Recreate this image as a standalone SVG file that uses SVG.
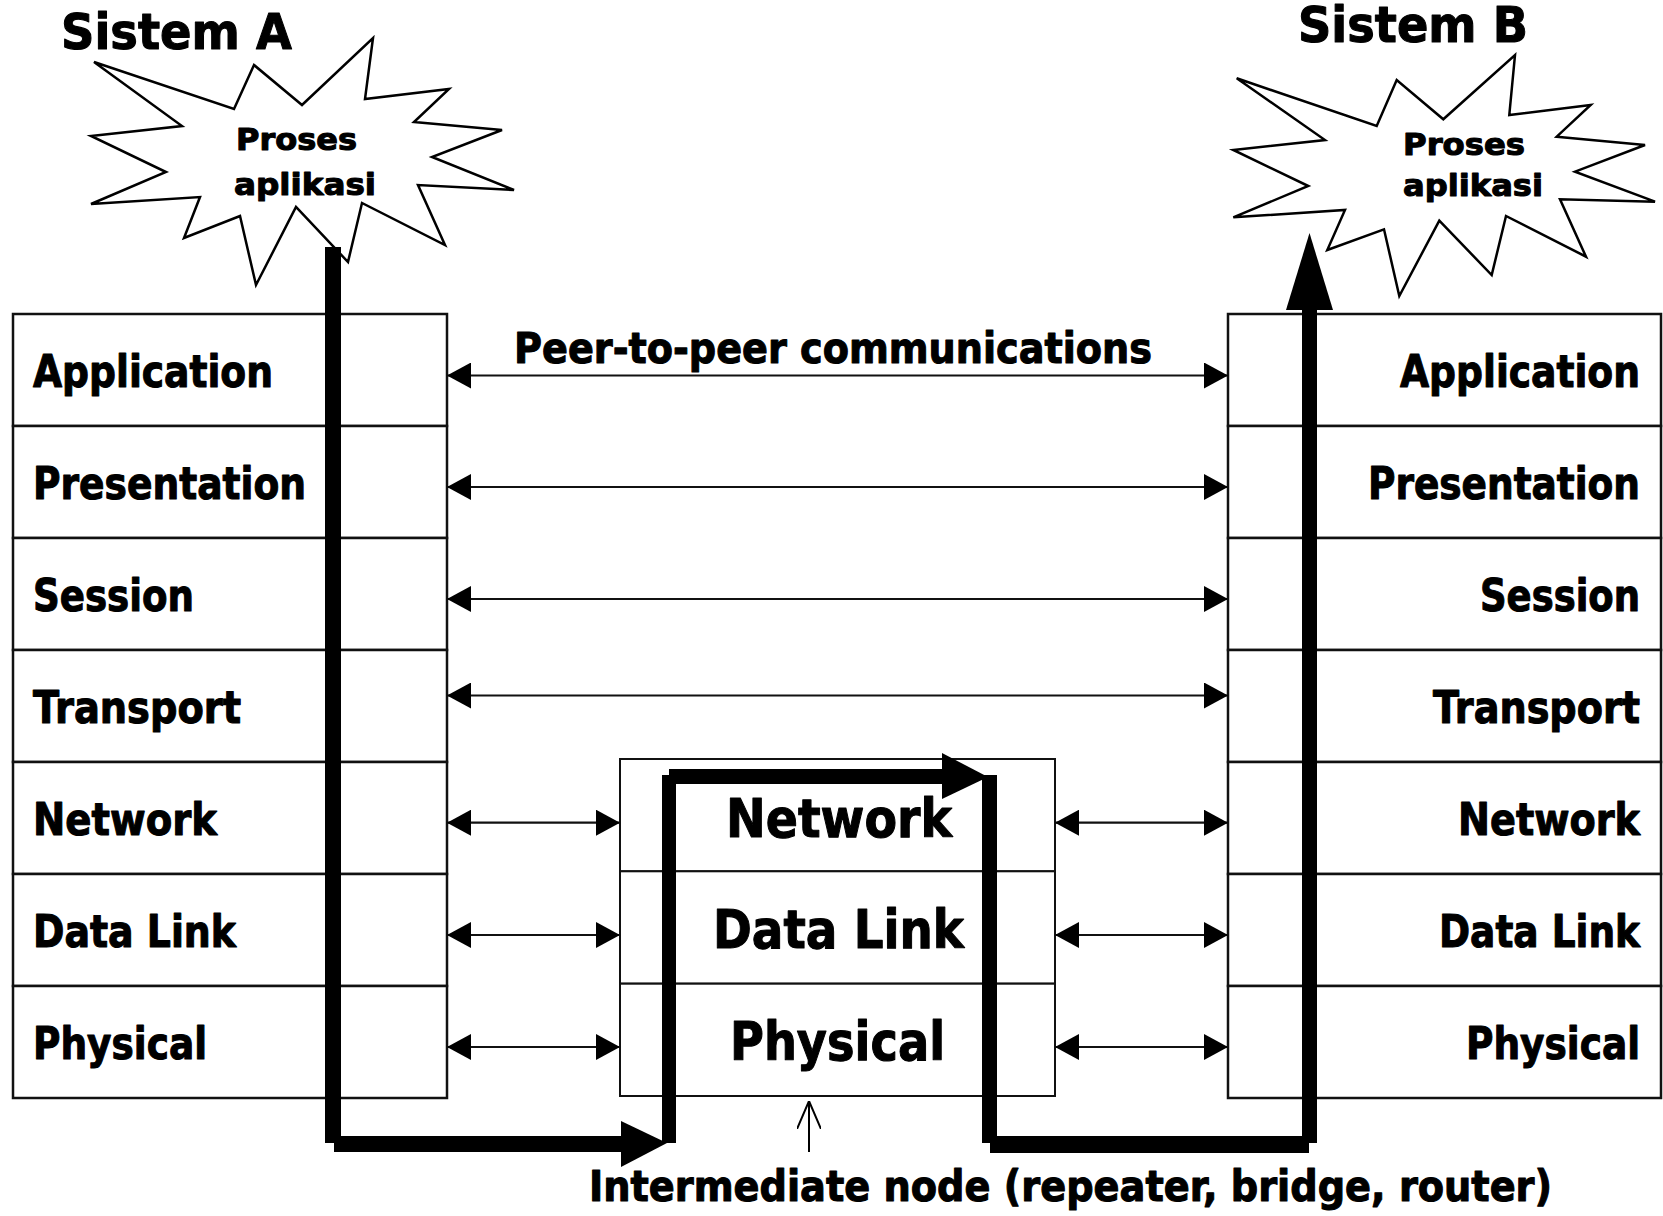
<svg xmlns="http://www.w3.org/2000/svg" width="1663" height="1216" viewBox="0 0 1663 1216">
  <style>
    .t { font-family: "DejaVu Sans", "Liberation Sans", sans-serif; font-weight: bold; fill: #000; stroke: #000; stroke-width: 1.1; stroke-linejoin: round; }
    .layer { fill: #fff; stroke: #111; stroke-width: 2.5; }
    .mid { fill: #fff; stroke: #111; stroke-width: 2; }
    .star { fill: #fff; stroke: #000; stroke-width: 2.5; stroke-linejoin: miter; }
    .peer { stroke: #111; stroke-width: 2.2; fill: none; marker-start: url(#tip); marker-end: url(#tip); }
    .flow { fill: #000; }
  </style>
  <defs>
    <marker id="tip" markerUnits="userSpaceOnUse" viewBox="0 0 24 26" refX="24" refY="13" markerWidth="24" markerHeight="26" orient="auto-start-reverse">
      <path d="M0,0 L24,13 L0,26 Z" fill="#000"/>
    </marker>
    <marker id="small" markerUnits="userSpaceOnUse" viewBox="0 0 28 24" refX="28" refY="12" markerWidth="28" markerHeight="24" orient="auto">
      <path d="M0,0 L28,12 L0,24" fill="none" stroke="#000" stroke-width="2"/>
    </marker>
  </defs>

  <rect x="0" y="0" width="1663" height="1216" fill="#fff"/>

  <!-- System A: title and application process -->
  <g id="sistem-a">
    <text class="t" x="61" y="49" font-size="50" textLength="231" lengthAdjust="spacingAndGlyphs">Sistem A</text>
  </g>
  <g id="proses-a">
    <polygon class="star" points="94,62 234,109 254,65 302,105 373,38 365,99 449,89 414,122 502,130 432,157 514,190 418,185 445,245 362,203 348,262 296,207 256,285 240,216 184,238 200,197 91,204 166,172 91,136 182,126"/>
    <text class="t" x="236" y="150" font-size="31" textLength="121" lengthAdjust="spacingAndGlyphs">Proses</text>
    <text class="t" x="234" y="195" font-size="31" textLength="142" lengthAdjust="spacingAndGlyphs">aplikasi</text>
  </g>

  <!-- System B: title and application process -->
  <g id="sistem-b">
    <text class="t" x="1298" y="42" font-size="50" textLength="230" lengthAdjust="spacingAndGlyphs">Sistem B</text>
  </g>
  <g id="proses-b">
    <polygon class="star" points="1236.7,78.3 1376.7,126 1396.7,80 1443.3,119.3 1515,55 1509.3,115 1590.7,105 1556.7,136.7 1645,145 1575,171.7 1655,201.7 1560,199.3 1586,256.7 1506,216 1491.7,275 1439.3,220.7 1399.3,296 1384,229.3 1327.3,250 1345,210 1233.3,217.3 1308.3,186 1233.3,150 1325,140"/>
    <text class="t" x="1403" y="155" font-size="31" textLength="122" lengthAdjust="spacingAndGlyphs">Proses</text>
    <text class="t" x="1403" y="196" font-size="31" textLength="140" lengthAdjust="spacingAndGlyphs">aplikasi</text>
  </g>

  <!-- Stack of system A -->
  <g id="stack-a">
    <g id="a-application"><rect class="layer" x="13" y="314" width="434" height="112"/><text class="t" x="33" y="386.5" font-size="44" textLength="240" lengthAdjust="spacingAndGlyphs">Application</text></g>
    <g id="a-presentation"><rect class="layer" x="13" y="426" width="434" height="112"/><text class="t" x="33" y="498.5" font-size="44" textLength="273" lengthAdjust="spacingAndGlyphs">Presentation</text></g>
    <g id="a-session"><rect class="layer" x="13" y="538" width="434" height="112"/><text class="t" x="33" y="610.5" font-size="44" textLength="161" lengthAdjust="spacingAndGlyphs">Session</text></g>
    <g id="a-transport"><rect class="layer" x="13" y="650" width="434" height="112"/><text class="t" x="33" y="722.5" font-size="44" textLength="208" lengthAdjust="spacingAndGlyphs">Transport</text></g>
    <g id="a-network"><rect class="layer" x="13" y="762" width="434" height="112"/><text class="t" x="33" y="834.5" font-size="44" textLength="184" lengthAdjust="spacingAndGlyphs">Network</text></g>
    <g id="a-datalink"><rect class="layer" x="13" y="874" width="434" height="112"/><text class="t" x="33" y="946.5" font-size="44" textLength="203" lengthAdjust="spacingAndGlyphs">Data Link</text></g>
    <g id="a-physical"><rect class="layer" x="13" y="986" width="434" height="112"/><text class="t" x="33" y="1058.5" font-size="44" textLength="174" lengthAdjust="spacingAndGlyphs">Physical</text></g>
  </g>

  <!-- Stack of system B -->
  <g id="stack-b">
    <g id="b-application"><rect class="layer" x="1228" y="314" width="433" height="112"/><text class="t" x="1640" y="386.5" font-size="44" text-anchor="end" textLength="240" lengthAdjust="spacingAndGlyphs">Application</text></g>
    <g id="b-presentation"><rect class="layer" x="1228" y="426" width="433" height="112"/><text class="t" x="1640" y="498.5" font-size="44" text-anchor="end" textLength="272" lengthAdjust="spacingAndGlyphs">Presentation</text></g>
    <g id="b-session"><rect class="layer" x="1228" y="538" width="433" height="112"/><text class="t" x="1640" y="610.5" font-size="44" text-anchor="end" textLength="160" lengthAdjust="spacingAndGlyphs">Session</text></g>
    <g id="b-transport"><rect class="layer" x="1228" y="650" width="433" height="112"/><text class="t" x="1640" y="722.5" font-size="44" text-anchor="end" textLength="207" lengthAdjust="spacingAndGlyphs">Transport</text></g>
    <g id="b-network"><rect class="layer" x="1228" y="762" width="433" height="112"/><text class="t" x="1640" y="834.5" font-size="44" text-anchor="end" textLength="182" lengthAdjust="spacingAndGlyphs">Network</text></g>
    <g id="b-datalink"><rect class="layer" x="1228" y="874" width="433" height="112"/><text class="t" x="1640" y="946.5" font-size="44" text-anchor="end" textLength="201" lengthAdjust="spacingAndGlyphs">Data Link</text></g>
    <g id="b-physical"><rect class="layer" x="1228" y="986" width="433" height="112"/><text class="t" x="1640" y="1058.5" font-size="44" text-anchor="end" textLength="174" lengthAdjust="spacingAndGlyphs">Physical</text></g>
  </g>

  <!-- Intermediate node stack -->
  <g id="intermediate">
    <g id="i-network"><rect class="mid" x="620" y="759" width="435" height="112.3"/><text class="t" x="839" y="837" font-size="53" text-anchor="middle" textLength="226" lengthAdjust="spacingAndGlyphs">Network</text></g>
    <g id="i-datalink"><rect class="mid" x="620" y="871.3" width="435" height="112.3"/><text class="t" x="838.5" y="948" font-size="53" text-anchor="middle" textLength="251" lengthAdjust="spacingAndGlyphs">Data Link</text></g>
    <g id="i-physical"><rect class="mid" x="620" y="983.7" width="435" height="112.3"/><text class="t" x="837.5" y="1060" font-size="53" text-anchor="middle" textLength="215" lengthAdjust="spacingAndGlyphs">Physical</text></g>
  </g>

  <!-- Connectors: peer-to-peer links and the data path -->
  <g id="connectors">
    <line class="peer" x1="447" y1="375.5" x2="1228" y2="375.5"/>
    <line class="peer" x1="447" y1="487" x2="1228" y2="487"/>
    <line class="peer" x1="447" y1="599" x2="1228" y2="599"/>
    <line class="peer" x1="447" y1="695.5" x2="1228" y2="695.5"/>
    <line class="peer" x1="447" y1="822.7" x2="620" y2="822.7"/>
    <line class="peer" x1="447" y1="935" x2="620" y2="935"/>
    <line class="peer" x1="447" y1="1047" x2="620" y2="1047"/>
    <line class="peer" x1="1055" y1="822.7" x2="1228" y2="822.7"/>
    <line class="peer" x1="1055" y1="935" x2="1228" y2="935"/>
    <line class="peer" x1="1055" y1="1047" x2="1228" y2="1047"/>

    <!-- pointer to the intermediate node -->
    <line x1="809" y1="1152" x2="809" y2="1101" stroke="#000" stroke-width="2" marker-end="url(#small)"/>

    <!-- data path from process A down, across the intermediate node, up to process B -->
    <g id="data-path">
      <rect class="flow" x="325" y="247" width="16" height="896"/>
      <rect class="flow" x="334" y="1136" width="290" height="16"/>
      <polygon class="flow" points="621,1121 667,1143 621,1167"/>
      <rect class="flow" x="662" y="775" width="14" height="368"/>
      <rect class="flow" x="669" y="769" width="276" height="15"/>
      <polygon class="flow" points="942,753 988,777 942,799"/>
      <rect class="flow" x="982" y="775" width="15" height="368"/>
      <rect class="flow" x="990" y="1136" width="319" height="17"/>
      <rect class="flow" x="1302" y="305" width="15" height="838"/>
      <polygon class="flow" points="1286,310 1309.5,233 1333,310"/>
    </g>
  </g>

  <!-- Captions -->
  <g id="captions">
    <text class="t" x="514" y="363" font-size="43" textLength="638" lengthAdjust="spacingAndGlyphs">Peer-to-peer communications</text>
    <text class="t" x="589" y="1201" font-size="42" textLength="963" lengthAdjust="spacingAndGlyphs">Intermediate node (repeater, bridge, router)</text>
  </g>
</svg>
